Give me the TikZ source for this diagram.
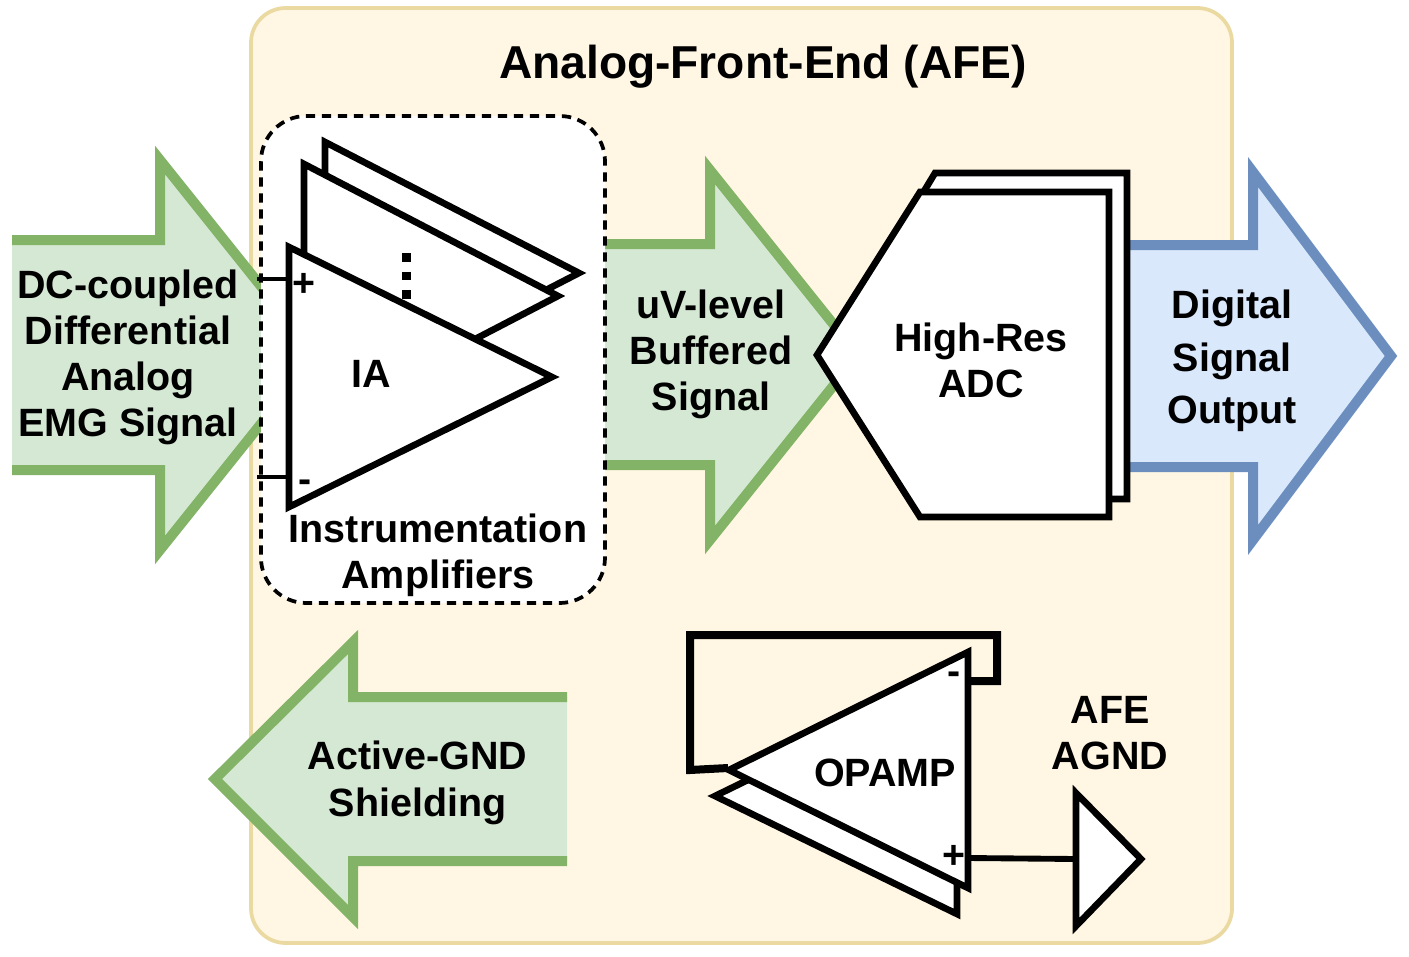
\documentclass[tikz,border=0pt]{standalone}
\usepackage{fontspec}
\setmainfont{Liberation Sans}[BoldFont={Liberation Sans Bold}]
\definecolor{afefill}{HTML}{FFF7E3}
\definecolor{afeline}{HTML}{EAD9A0}
\definecolor{gfill}{HTML}{D5E8D4}
\definecolor{gline}{HTML}{82B366}
\definecolor{bfill}{HTML}{DAE8FC}
\definecolor{bline}{HTML}{6C8EBF}
\tikzset{
  lbl/.style={inner sep=0pt,align=center,font=\bfseries\fontsize{29.6pt}{34.5pt}\selectfont},
  sgn/.style={inner sep=0pt,font=\bfseries\fontsize{29.5pt}{34.5pt}\selectfont},
  garrow/.style={draw=gline,line width=7.5pt,miter limit=20},
  barrow/.style={draw=bline,line width=7.5pt,miter limit=20},
  block/.style={draw=black,fill=white,line width=5pt,miter limit=20},
  wire/.style={draw=black,line width=2.8pt},
}
\begin{document}
\begin{tikzpicture}[x=0.75pt,y=-0.75pt]
\useasboundingbox (0,0) rectangle (1409,956);
% AFE panel
\draw[fill=afefill,draw=afeline,line width=2.8pt,rounded corners=26pt] (251,8) rectangle (1232,943);
\node[inner sep=0pt,font=\bfseries\fontsize{34.6pt}{40pt}\selectfont] (title) at (763,67) {Analog-Front-End (AFE)};
% input arrow
\fill[gfill] (12,240) -- (160,240) -- (160,160) -- (316,355) -- (160,550) -- (160,470) -- (12,470) -- cycle;
\draw[garrow] (12,240) -- (160,240) -- (160,160) -- (316,355) -- (160,550) -- (160,470) -- (12,470);
% buffered arrow
\fill[gfill] (600,244) -- (710,244) -- (710,170) -- (858,355) -- (710,540) -- (710,465) -- (600,465) -- cycle;
\draw[garrow] (600,244) -- (710,244) -- (710,170) -- (858,355) -- (710,540) -- (710,465) -- (600,465);
% output arrow
\fill[bfill] (1120,245) -- (1253,245) -- (1253,172) -- (1391,356) -- (1253,540) -- (1253,467) -- (1120,467) -- cycle;
\draw[barrow] (1120,245) -- (1253,245) -- (1253,172) -- (1391,356) -- (1253,540) -- (1253,467) -- (1120,467);
% shield arrow
\fill[gfill] (567,697) -- (353,697) -- (353,642) -- (215,779) -- (353,917) -- (353,861) -- (567,861) -- cycle;
\draw[garrow] (567,697) -- (353,697) -- (353,642) -- (215,779) -- (353,917) -- (353,861) -- (567,861);
% IA group
\draw[fill=white,draw=black,line width=2.8pt,dash pattern=on 7pt off 5pt,rounded corners=34pt] (261,116) rectangle (605,603);
\draw[block] (325,142) -- (579,273) -- (325,404) -- cycle;
\draw[block] (304,164) -- (558,296) -- (304,428) -- cycle;
\draw[draw=black,line width=6.6pt,dash pattern=on 6.6pt off 7.4pt] (406.5,253) -- (406.5,300);
\coordinate (plusend) at (257,279);
\coordinate (minusend) at (257,477);
\coordinate (plusin) at (289,279);
\coordinate (minusin) at (289,477);
\draw[wire] (plusend) -- (plusin);
\draw[wire] (minusend) -- (minusin);
\draw[block] (289,247) -- (552,377) -- (289,507) -- cycle;
\node[sgn] (iaplus) at (304,285) {+};
\node[sgn] (iaminus) at (305,486) {-};
\node[lbl] (ia) at (371,374) {IA};
\node[lbl] (instr) at (438,555.5) {Instrumentation\\Amplifiers};
% ADC
\draw[block] (935,173) -- (1127,173) -- (1127,499) -- (935,499) -- (836,337) -- cycle;
\draw[block] (920,192) -- (1109,192) -- (1109,517) -- (920,517) -- (817,355) -- cycle;
\node[lbl] (adc) at (981,360) {High-Res\\ADC};
% OPAMP
\draw[block] (957,678) -- (957,914) -- (715,796) -- cycle;
\coordinate (fbout) at (728,768);
\coordinate (fbin) at (968,681);
\draw[draw=black,line width=6pt,miter limit=20] (fbin) -- (997,681) -- (997,635) -- (690,635) -- (690,770) -- (fbout);
\draw[block] (968,652) -- (968,888) -- (729,770) -- cycle;
\node[sgn] (opminus) at (954,678) {-};
\node[sgn] (opplus) at (954,857) {+};
\node[lbl] (opamp) at (885,773) {OPAMP};
\coordinate (oppin) at (968,858);
\coordinate (gndin) at (1076,859);
\draw[draw=black,line width=4.4pt] (oppin) -- (gndin);
\draw[block] (1076,793) -- (1141,859) -- (1076,926) -- cycle;
\node[lbl] (agnd) at (1110,733) {AFE\\AGND};
% arrow labels
\node[lbl] (dc) at (128,357.5) {DC-coupled\\Differential\\Analog\\EMG Signal};
\node[lbl] (uv) at (711,354.5) {uV-level\\Buffered\\Signal};
\node[lbl,font=\bfseries\fontsize{29.6pt}{39.5pt}\selectfont] (dig) at (1232,361) {Digital\\Signal\\Output};
\node[lbl,font=\bfseries\fontsize{29.6pt}{35.5pt}\selectfont] (shield) at (417.5,783) {Active-GND\\Shielding};
\end{tikzpicture}
\end{document}
